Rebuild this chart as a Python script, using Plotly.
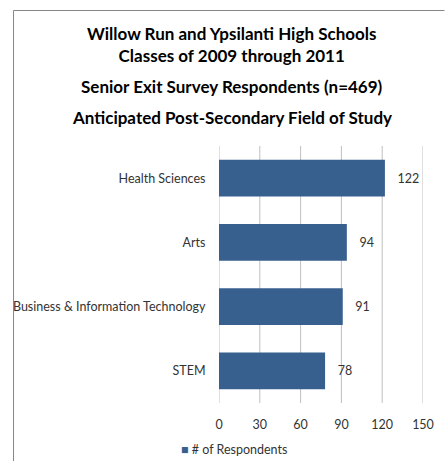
import plotly.graph_objects as go

categories = ["STEM", "Business & Information Technology", "Arts", "Health Sciences"]
respondents = [78, 91, 94, 122]
series_name = "# of Respondents"
x_ticks = [0, 30, 60, 90, 120, 150]

FONT = "Lato"
W, H = 446, 461
ml, mr, mt, mb = 219, 18, 146, 58
PW, PH = W - ml - mr, H - mt - mb


def px_x(p):
    return (p - ml) / PW


def px_y(p):
    return (H - mb - p) / PH


BAR_COLOR = "#37608F"
TEXT_COLOR = "#333333"
GRID_COLOR = "#BFBFBF"

fig = go.Figure()
fig.add_trace(go.Bar(
    y=categories, x=respondents, orientation="h", name=series_name,
    marker=dict(color=BAR_COLOR, line=dict(width=0)),
    width=0.57,
    text=respondents, texttemplate="   %{x}", textposition="outside",
    textfont=dict(family=FONT, size=12.5, color=TEXT_COLOR),
    cliponaxis=False, showlegend=False,
))

title_font = dict(family=FONT, size=17, color="#000000")
fig.add_annotation(text="<b>Willow Run and Ypsilanti High Schools</b><br>"
                        "<b>Classes of 2009 through 2011</b>",
                   xref="paper", yref="paper", x=px_x(232), y=px_y(44),
                   xanchor="center", yanchor="middle", showarrow=False,
                   font=title_font)
for txt, ypix in [("<b>Senior Exit Survey Respondents (n=469)</b>", 87),
                  ("<b>Anticipated Post-Secondary Field of Study</b>", 118)]:
    fig.add_annotation(text=txt, xref="paper", yref="paper",
                       x=px_x(232), y=px_y(ypix),
                       xanchor="center", yanchor="middle", showarrow=False,
                       font=title_font)

# legend drawn as text with a coloured square
fig.add_annotation(text=f"<span style='color:{BAR_COLOR}'>■</span> {series_name}",
                   xref="paper", yref="paper", x=px_x(178), y=px_y(449),
                   xanchor="left", yanchor="middle", showarrow=False,
                   font=dict(family=FONT, size=12.5, color=TEXT_COLOR))

# vertical gridlines drawn from the tick values
for v in x_ticks:
    fig.add_shape(type="line", xref="x", yref="paper", x0=v, x1=v, y0=0, y1=1,
                  line=dict(color=GRID_COLOR, width=1), layer="below")

# chart border (left and top)
fig.add_shape(type="line", xref="paper", yref="paper",
              x0=px_x(8.5), x1=px_x(8.5), y0=px_y(10.5), y1=px_y(470),
              line=dict(color="#868686", width=1))
fig.add_shape(type="line", xref="paper", yref="paper",
              x0=px_x(8.5), x1=px_x(450), y0=px_y(10.5), y1=px_y(10.5),
              line=dict(color="#868686", width=1))

fig.update_layout(
    width=W, height=H,
    margin=dict(l=ml, r=mr, t=mt, b=mb),
    paper_bgcolor="white", plot_bgcolor="white",
    showlegend=False,
    font=dict(family=FONT, size=12.5, color=TEXT_COLOR),
    bargap=0.43,
)
fig.update_xaxes(range=[0, 150], tickvals=x_ticks, showgrid=False,
                 zeroline=False, showline=False, ticks="outside", ticklen=10,
                 tickcolor="rgba(0,0,0,0)",
                 tickfont=dict(family=FONT, size=12.5, color=TEXT_COLOR))
fig.update_yaxes(showline=False, ticks="outside", ticklen=10,
                 tickcolor="rgba(0,0,0,0)", showgrid=False,
                 tickfont=dict(family=FONT, size=12.5, color=TEXT_COLOR),
                 categoryorder="array", categoryarray=categories)

fig.write_html("out.html", config={"displayModeBar": False})

with open("out.html", encoding="utf-8") as f:
    html = f.read()
html = html.replace("<head>", "<head><style>html,body{margin:0;padding:0;overflow:hidden;}</style>", 1)
with open("out.html", "w", encoding="utf-8") as f:
    f.write(html)
